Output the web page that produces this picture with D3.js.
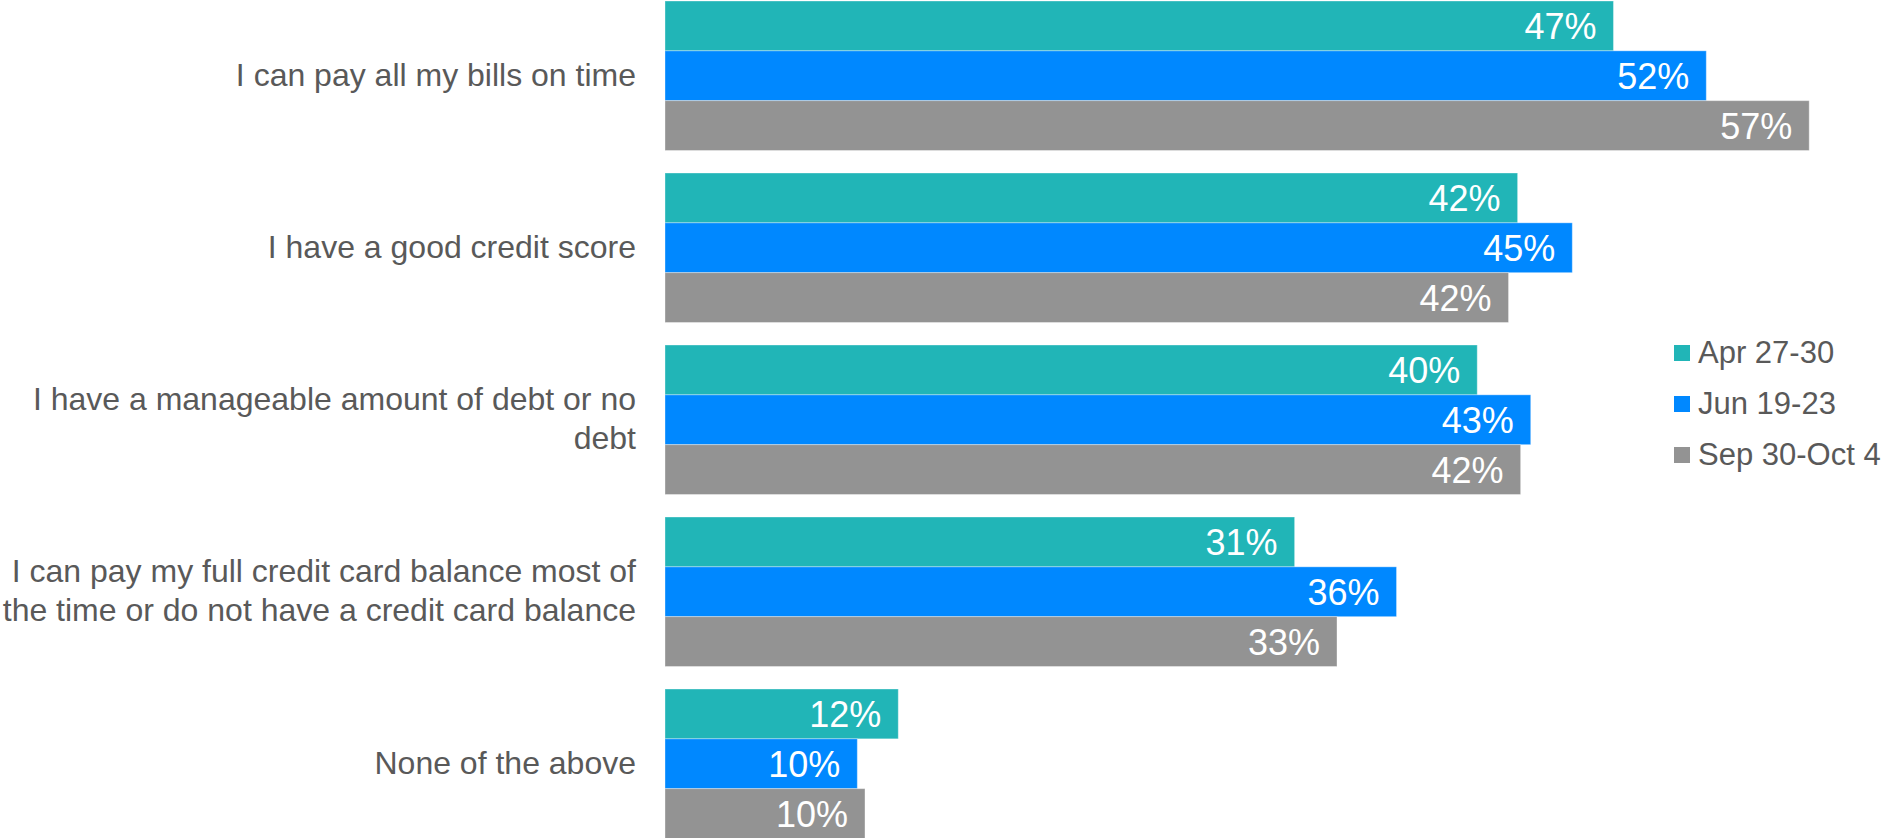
<!DOCTYPE html>
<html>
<head>
<meta charset="utf-8">
<script src="https://cdn.jsdelivr.net/npm/d3@7"></script>
<style>
  html, body { margin: 0; padding: 0; background: #ffffff; }
  svg { display: block; font-family: "Liberation Sans", Arial, sans-serif; }
</style>
</head>
<body>
<svg id="chart" width="1888" height="838"></svg>
<script>
// ---- Data ----
const categories = [
  "I can pay all my bills on time",
  "I have a good credit score",
  "I have a manageable amount of debt or no debt",
  "I can pay my full credit card balance most of the time or do not have a credit card balance",
  "None of the above"
];
const labelLines = [
  ["I can pay all my bills on time"],
  ["I have a good credit score"],
  ["I have a manageable amount of debt or no", "debt"],
  ["I can pay my full credit card balance most of", "the time or do not have a credit card balance"],
  ["None of the above"]
];
const seriesNames = ["Apr 27-30", "Jun 19-23", "Sep 30-Oct 4"];
const seriesColors = ["#21B5B7", "#0088FF", "#939393"];
const aprValues = [47.0, 42.25, 40.25, 31.2, 11.56];
const junValues = [51.6, 44.96, 42.9, 36.25, 9.53];
const sepValues = [56.7, 41.8, 42.4, 33.3, 9.91];
const valueLabels = [
  ["47%", "42%", "40%", "31%", "12%"],
  ["52%", "45%", "43%", "36%", "10%"],
  ["57%", "42%", "42%", "33%", "10%"]
];
const seriesValues = [aprValues, junValues, sepValues];

// ---- Scales ----
const svg = d3.select("#chart");
const x = d3.scaleLinear().domain([0, 60]).range([665, 665 + 60 * 20.18]);
const y0 = d3.scaleBand().domain(categories).range([1, 838.5]).paddingInner(22.5 / 172).paddingOuter(0);
const y1 = d3.scaleBand().domain(seriesNames).range([0, y0.bandwidth()]);

// ---- Bars ----
const groups = svg.append("g").selectAll("g")
  .data(categories)
  .join("g")
  .attr("transform", d => `translate(0,${y0(d)})`);

groups.each(function(cat, ci) {
  const g = d3.select(this);
  seriesNames.forEach((s, si) => {
    const v = seriesValues[si][ci];
    g.append("rect")
      .attr("x", x(0))
      .attr("y", y1(s))
      .attr("width", x(v) - x(0))
      .attr("height", y1.bandwidth())
      .attr("fill", seriesColors[si])
      .attr("stroke", "rgba(255,255,255,0.35)")
      .attr("stroke-width", 1);
    g.append("text")
      .attr("x", x(v) - 17)
      .attr("y", y1(s) + y1.bandwidth() / 2 + 13)
      .attr("text-anchor", "end")
      .attr("fill", "#ffffff")
      .attr("font-size", "36px")
      .text(valueLabels[si][ci]);
  });
});

// ---- Category labels ----
const lineH = 39;
categories.forEach((cat, ci) => {
  const lines = labelLines[ci];
  const cy = y0(cat) + y0.bandwidth() / 2;
  const t = svg.append("text")
    .attr("text-anchor", "end")
    .attr("fill", "#595959")
    .attr("font-size", "32px");
  lines.forEach((ln, li) => {
    t.append("tspan")
      .attr("x", 636)
      .attr("y", cy + 10 + (li - (lines.length - 1) / 2) * lineH)
      .text(ln);
  });
});

// ---- Legend ----
const legend = svg.append("g").attr("transform", "translate(1674,345)");
seriesNames.forEach((s, i) => {
  const gy = i * 51;
  legend.append("rect")
    .attr("x", 0).attr("y", gy)
    .attr("width", 16).attr("height", 16)
    .attr("fill", seriesColors[i]);
  legend.append("text")
    .attr("x", 24).attr("y", gy + 18)
    .attr("fill", "#595959")
    .attr("font-size", "31px")
    .text(s);
});
</script>
</body>
</html>
